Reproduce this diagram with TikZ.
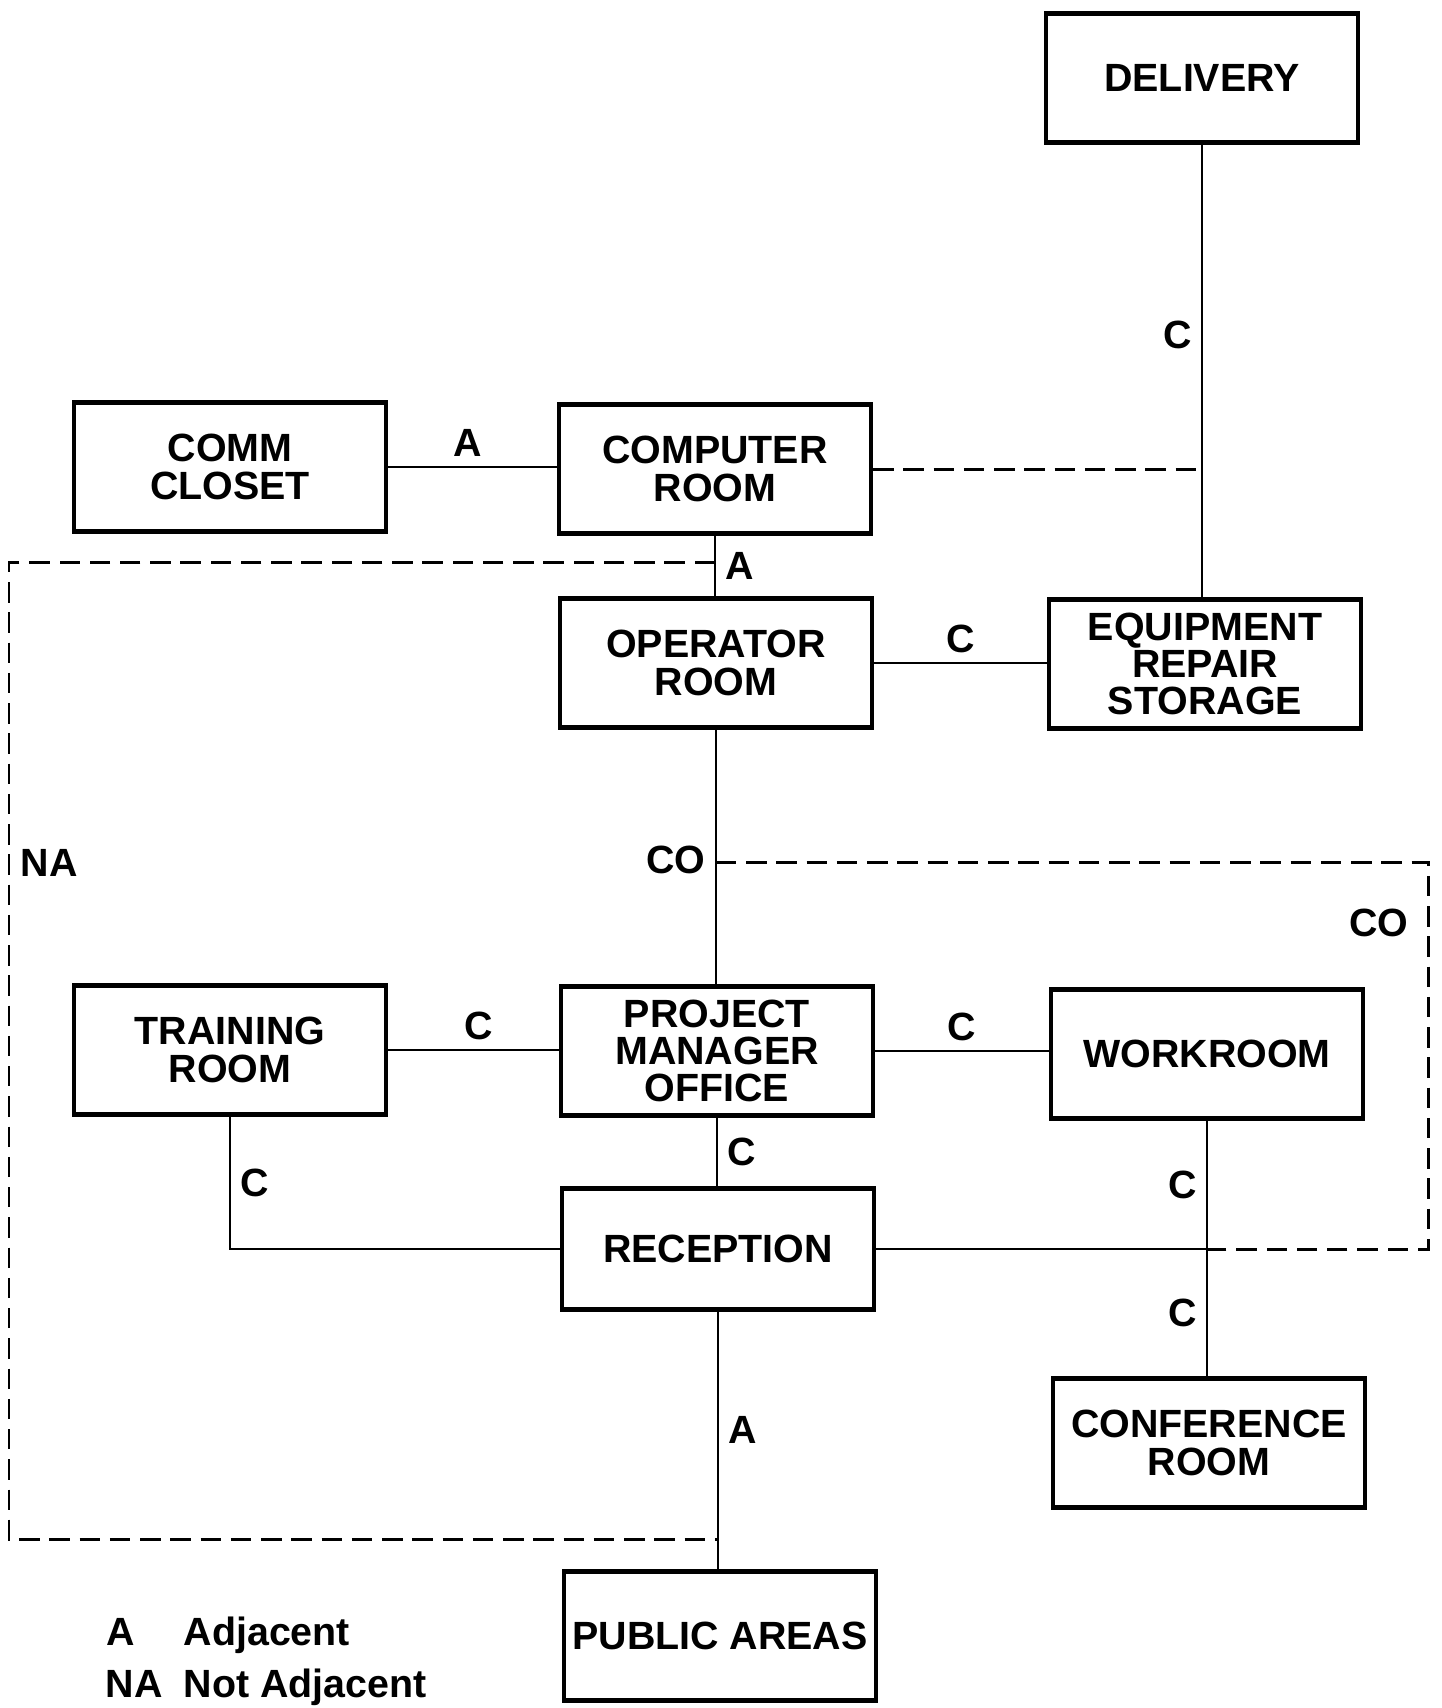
\documentclass[tikz,border=0pt]{standalone}
\usepackage{fontspec}
\setmainfont{Liberation Sans}
\usetikzlibrary{calc}
\newcommand\roomfont{\fontsize{11.2}{10.6}\selectfont\bfseries}

\begin{document}
\begin{tikzpicture}[x=0.01cm,y=-0.01cm,
		room/.style={draw,line width=1.2pt,align=center,inner sep=0pt,
			minimum width=3.12cm,minimum height=1.29cm,font=\roomfont},
		link/.style={line width=0.75pt},
		nolink/.style={line width=0.85pt,dash pattern=on 5.8pt off 2.8pt},
		tag/.style={font=\roomfont,inner sep=2.6pt},
		legend/.style={font=\roomfont,inner sep=0pt,anchor=base west}]
		\useasboundingbox (0,0) rectangle (1441,1708);
		
		% Rooms
		\node[room] (delivery) at (1202,78) {DELIVERY};
		\node[room] (comm) at (230,467) {COMM\\CLOSET};
		\node[room] (computer) at (715,469) {COMPUTER\\ROOM};
		\node[room] (operator) at (716,663) {OPERATOR\\ROOM};
		\node[room] (equip) at (1205,664) {EQUIPMENT\\REPAIR\\STORAGE};
		\node[room] (training) at (230,1050) {TRAINING\\ROOM};
		\node[room] (pm) at (717,1051) {PROJECT\\MANAGER\\OFFICE};
		\node[room] (workroom) at (1207,1054) {WORKROOM};
		\node[room,minimum height=1.21cm] (reception) at (718,1249) {RECEPTION};
		\node[room] (conference) at (1209,1443) {CONFERENCE\\ROOM};
		\node[room] (public) at (720,1636) {PUBLIC AREAS};
		
		% Points on the links
		\coordinate (cdash) at (computer.east -| delivery.south);
		\coordinate (wc) at (reception.east -| workroom.south);
		\coordinate (natop) at ($(computer.south)!0.44!(computer.south |- operator.north)$);
		\coordinate (nabot) at ($(reception.south)!0.885!(reception.south |- public.north)$);
		\coordinate (cotop) at ($(operator.south)!0.52!(operator.south |- pm.north)$);
		
		% Solid links
		\draw[link] (delivery.south) -- node[tag,left,pos=0.42] (c1) {C} (delivery.south |- equip.north);
		\draw[link] (comm.east) -- node[tag,above,pos=0.47] (a1) {A} (comm.east -| computer.west);
		\draw[link] (computer.south) -- node[tag,right] (a2) {A} (computer.south |- operator.north);
		\draw[link] (operator.east) -- node[tag,above] (c2) {C} (operator.east -| equip.west);
		\draw[link] (operator.south) -- node[tag,left,pos=0.51] (co1) {CO} (operator.south |- pm.north);
		\draw[link] (training.east) -- node[tag,above,pos=0.53] (c3) {C} (training.east -| pm.west);
		\draw[link] (pm.east) -- node[tag,above] (c4) {C} (pm.east -| workroom.west);
		\draw[link] (pm.south) -- node[tag,right] (c5) {C} (pm.south |- reception.north);
		\draw[link] (training.south) -- node[tag,right] (c6) {C} (training.south |- reception.west) -- (reception.west);
		\draw[link] (reception.east) -- (wc);
		\draw[link] (workroom.south) -- node[tag,left] (c7) {C} (wc) -- node[tag,left] (c8) {C} (workroom.south |- conference.north);
		\draw[link] (reception.south) -- node[tag,right,pos=0.46] (a3) {A} (reception.south |- public.north);
		
		% Dashed links
		\draw[nolink] (computer.east) -- (cdash);
		\draw[nolink] (natop) -- (natop -| 9,0) -- (nabot -| 9,0) -- (nabot);
		\draw[nolink] (cotop) -- (cotop -| 1428,0) -- (wc -| 1428,0) -- (wc);
		\node[tag,anchor=west] (na) at (11,863) {NA};
		\node[tag,anchor=east] (co2) at (1418,923) {CO};
		
		% Legend
		\node[legend] (keya) at (106,1645) {A};
		\node[legend] (keyadj) at (183,1645) {Adjacent};
		\node[legend] (keyna) at (105,1697) {NA};
		\node[legend] (keynotadj) at (183,1697) {Not Adjacent};
		
\end{tikzpicture}
\end{document}
